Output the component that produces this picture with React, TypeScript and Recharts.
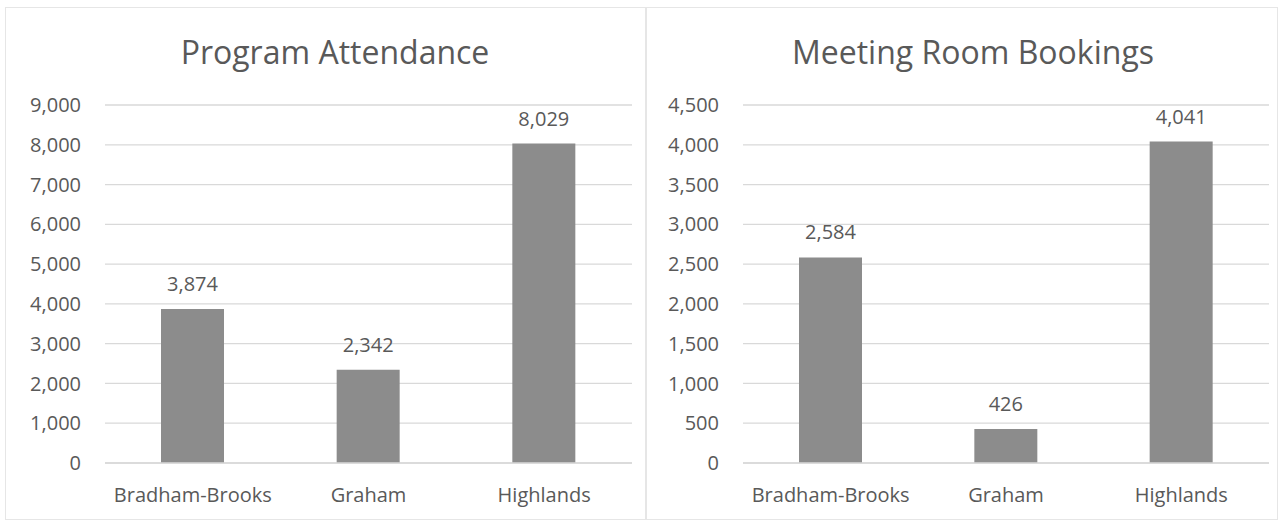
import React from "react";
import { BarChart, Bar, XAxis, YAxis, CartesianGrid, LabelList } from "recharts";

const branches = ["Bradham-Brooks", "Graham", "Highlands"];
const attendanceValues = [3874, 2342, 8029];
const bookingValues = [2584, 426, 4041];
const attendanceTicks = [0, 1000, 2000, 3000, 4000, 5000, 6000, 7000, 8000, 9000];
const bookingTicks = [0, 500, 1000, 1500, 2000, 2500, 3000, 3500, 4000, 4500];
const titles = ["Program Attendance", "Meeting Room Bookings"];

const FONT = "'Open Sans', sans-serif";
const TEXT = "#595959";
const BAR = "#8c8c8c";
const GRID = "#d9d9d9";

const fmt = (v: number) => v.toLocaleString("en-US");

type PanelProps = {
  title: string;
  values: number[];
  ticks: number[];
  left: number;
  width: number;
  yAxisWidth: number;
  marginRight: number;
  titleCenter: number;
};

function Panel({ title, values, ticks, left, width, yAxisWidth, marginRight, titleCenter }: PanelProps) {
  const data = branches.map((name, i) => ({ name, value: values[i] }));
  return (
    <div
      style={{
        position: "absolute",
        left,
        top: 7,
        width,
        height: 513,
        boxSizing: "border-box",
        border: "1px solid #e6e6e6",
      }}
    >
      <div
        style={{
          position: "absolute",
          left: titleCenter - left - 250,
          width: 500,
          top: 22,
          textAlign: "center",
          fontFamily: FONT,
          fontSize: 32,
          color: TEXT,
          whiteSpace: "nowrap",
        }}
      >
        {title}
      </div>
      <div style={{ position: "absolute", left: -1, top: -1 }}>
        <BarChart
          width={width}
          height={513}
          data={data}
          margin={{ top: 98, right: marginRight, bottom: 0, left: 0 }}
          barCategoryGap="0%"
        >
          <CartesianGrid vertical={false} stroke={GRID} strokeWidth={1.3} />
          <XAxis
            dataKey="name"
            axisLine={{ stroke: GRID, strokeWidth: 1.3 }}
            tickLine={false}
            tickSize={0}
            tickMargin={25}
            height={57}
            interval={0}
            tick={{ fill: TEXT, fontSize: 20, fontFamily: FONT }}
          />
          <YAxis
            domain={[ticks[0], ticks[ticks.length - 1]]}
            ticks={ticks}
            interval={0}
            width={yAxisWidth}
            axisLine={false}
            tickLine={false}
            tickSize={0}
            tickMargin={24}
            tickFormatter={fmt}
            tick={{ fill: TEXT, fontSize: 20, fontFamily: FONT }}
          />
          <Bar dataKey="value" fill={BAR} barSize={63} isAnimationActive={false}>
            <LabelList
              dataKey="value"
              position="top"
              offset={18}
              formatter={(v: any) => fmt(Number(v))}
              style={{ fill: TEXT, fontSize: 20, fontFamily: FONT }}
            />
          </Bar>
        </BarChart>
      </div>
    </div>
  );
}

export default function App() {
  return (
    <div
      style={{
        position: "absolute",
        left: 0,
        top: 0,
        width: 1281,
        height: 525,
        background: "#ffffff",
        overflow: "hidden",
      }}
    >
      <Panel
        title={titles[0]}
        values={attendanceValues}
        ticks={attendanceTicks}
        left={5}
        width={641}
        yAxisWidth={100}
        marginRight={14}
        titleCenter={334}
      />
      <Panel
        title={titles[1]}
        values={bookingValues}
        ticks={bookingTicks}
        left={646}
        width={632}
        yAxisWidth={97}
        marginRight={9}
        titleCenter={972}
      />
    </div>
  );
}
